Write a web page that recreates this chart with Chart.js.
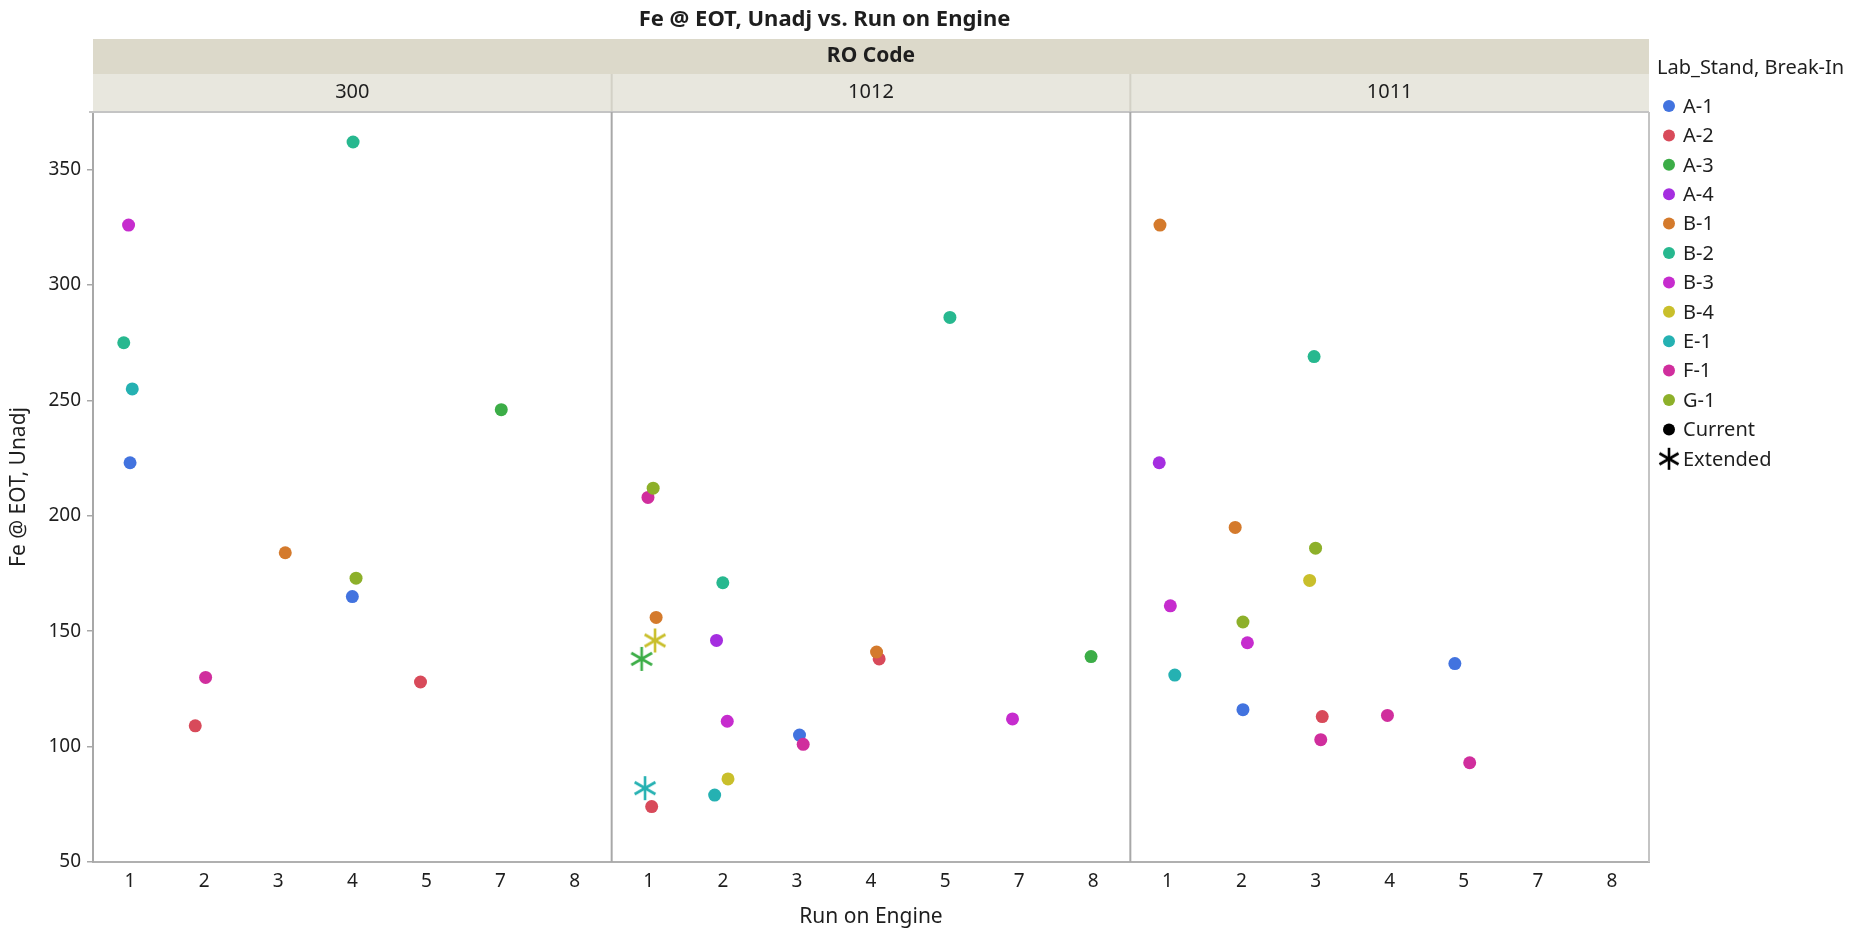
<!DOCTYPE html>
<html>
<head>
<meta charset="utf-8">
<script src="https://cdn.jsdelivr.net/npm/chart.js@4.4.1/dist/chart.umd.min.js"></script>
<style>
  html, body { margin: 0; padding: 0; background: #fff; }
  #wrap { width: 1849px; height: 930px; }
</style>
</head>
<body>
<div id="wrap"><canvas id="feChart" width="1849" height="930"></canvas></div>
<script>
const panels = ['300', '1012', '1011'];
const runs = ['1', '2', '3', '4', '5', '7', '8'];
const labStands = ['A-1', 'A-2', 'A-3', 'A-4', 'B-1', 'B-2', 'B-3', 'B-4', 'E-1', 'F-1', 'G-1'];
const yTicks = [50, 100, 150, 200, 250, 300, 350];

// rows: [RO Code, Run on Engine, Fe @ EOT Unadj, Break-In]
const feA1 = [['300', '1', 223, 'Current'], ['300', '4', 165, 'Current'], ['1012', '3', 105, 'Current'], ['1011', '2', 116, 'Current'], ['1011', '5', 136, 'Current']];
const feA2 = [['300', '2', 109, 'Current'], ['300', '5', 128, 'Current'], ['1012', '1', 74, 'Current'], ['1012', '4', 138, 'Current'], ['1011', '3', 113, 'Current']];
const feA3 = [['300', '7', 246, 'Current'], ['1012', '1', 138, 'Extended'], ['1012', '8', 139, 'Current']];
const feA4 = [['1012', '2', 146, 'Current'], ['1011', '1', 223, 'Current']];
const feB1 = [['300', '3', 184, 'Current'], ['1012', '1', 156, 'Current'], ['1012', '4', 141, 'Current'], ['1011', '1', 326, 'Current'], ['1011', '2', 195, 'Current']];
const feB2 = [['300', '1', 275, 'Current'], ['300', '4', 362, 'Current'], ['1012', '2', 171, 'Current'], ['1012', '5', 286, 'Current'], ['1011', '3', 269, 'Current']];
const feB3 = [['300', '1', 326, 'Current'], ['1012', '2', 111, 'Current'], ['1012', '7', 112, 'Current'], ['1011', '1', 161, 'Current'], ['1011', '2', 145, 'Current']];
const feB4 = [['1012', '1', 146, 'Extended'], ['1012', '2', 86, 'Current'], ['1011', '3', 172, 'Current']];
const feE1 = [['300', '1', 255, 'Current'], ['1012', '1', 82, 'Extended'], ['1012', '2', 79, 'Current'], ['1011', '1', 131, 'Current']];
const feF1 = [['300', '2', 130, 'Current'], ['1012', '1', 208, 'Current'], ['1012', '3', 101, 'Current'], ['1011', '3', 103, 'Current'], ['1011', '4', 113.5, 'Current'], ['1011', '5', 93, 'Current']];
const feG1 = [['300', '4', 173, 'Current'], ['1012', '1', 212, 'Current'], ['1011', '2', 154, 'Current'], ['1011', '3', 186, 'Current']];

// horizontal jitter inside a run slot, as seen in the picture
const jitA1 = [0, 0, 0.035, 0.02, -0.12];
const jitA2 = [-0.12, -0.08, 0.04, 0.11, 0.09];
const jitA3 = [0.01, -0.095, -0.03];
const jitA4 = [-0.085, -0.11];
const jitB1 = [0.095, 0.1, 0.075, -0.1, -0.085];
const jitB2 = [-0.085, 0.01, 0, 0.065, -0.02];
const jitB3 = [-0.02, 0.06, -0.09, 0.04, 0.08];
const jitB4 = [0.085, 0.07, -0.08];
const jitE1 = [0.03, -0.05, -0.11, 0.1];
const jitF1 = [0.02, -0.01, 0.085, 0.07, -0.03, 0.08];
const jitG1 = [0.05, 0.06, 0.02, 0];

const standRows = [feA1, feA2, feA3, feA4, feB1, feB2, feB3, feB4, feE1, feF1, feG1];
const standJitter = [jitA1, jitA2, jitA3, jitA4, jitB1, jitB2, jitB3, jitB4, jitE1, jitF1, jitG1];
const colors = ['#4273df', '#d84a5a', '#3cad47', '#a52ee0', '#d47a2c', '#27b88f', '#c62cce', '#c9bf2b', '#25b1b2', '#d02e9d', '#8db02a'];

const FONT = '"Noto Sans", "Open Sans", sans-serif';
const TXT = '#1e1e1e';

// six-armed asterisk used for Extended break-in
function makeStar(color, arm, lw) {
    const c = document.createElement('canvas');
    const s = Math.ceil(arm * 2 + 4);
    c.width = s; c.height = s;
    const g = c.getContext('2d');
    g.strokeStyle = color;
    g.lineWidth = lw;
    for (const a of [90, 30, 150]) {
        const r = a * Math.PI / 180;
        g.beginPath();
        g.moveTo(s / 2 - Math.cos(r) * arm, s / 2 - Math.sin(r) * arm);
        g.lineTo(s / 2 + Math.cos(r) * arm, s / 2 + Math.sin(r) * arm);
        g.stroke();
    }
    return c;
}
const stars = colors.map(c => makeStar(c, 12, 2.6));

const datasets = labStands.map((name, i) => ({
    label: name,
    order: -i,
    data: standRows[i].map((r, k) => ({
        x: panels.indexOf(r[0]) * runs.length + runs.indexOf(r[1]) + standJitter[i][k],
        y: r[2],
        breakIn: r[3]
    })),
    backgroundColor: colors[i],
    borderColor: colors[i],
    borderWidth: 0,
    pointRadius: 6.5,
    pointStyle: c => (c.raw && c.raw.breakIn === 'Extended') ? stars[i] : 'circle'
}));

const facetPlugin = {
    id: 'facets',
    beforeDraw(chart) {
        const { ctx, chartArea: a, scales: { x } } = chart;
        ctx.save();
        // RO Code band
        ctx.fillStyle = '#dcd9ca';
        ctx.fillRect(a.left, 39, a.right - a.left, 35);
        ctx.fillStyle = '#e8e7de';
        ctx.fillRect(a.left, 74, a.right - a.left, 37);
        ctx.fillStyle = TXT;
        ctx.textAlign = 'center';
        ctx.textBaseline = 'middle';
        ctx.font = 'bold 21px ' + FONT;
        ctx.fillText('RO Code', (a.left + a.right) / 2, 56);
        ctx.font = '20px ' + FONT;
        panels.forEach((p, i) => {
            const l = x.getPixelForValue(i * runs.length - 0.5);
            const r = x.getPixelForValue((i + 1) * runs.length - 0.5);
            ctx.fillText(p, (l + r) / 2, 92);
        });
        ctx.strokeStyle = '#d3d1c6';
        ctx.lineWidth = 2;
        for (let i = 1; i < panels.length; i++) {
            const px = x.getPixelForValue(i * runs.length - 0.5);
            ctx.beginPath(); ctx.moveTo(px, 74); ctx.lineTo(px, 111); ctx.stroke();
        }
        // chart title, centred over the whole graph frame
        ctx.font = 'bold 22px ' + FONT;
        ctx.fillText('Fe @ EOT, Unadj vs. Run on Engine', a.right / 2, 20);
        ctx.restore();
    },
    afterDraw(chart) {
        const { ctx, chartArea: a, scales: { x } } = chart;
        ctx.save();
        ctx.strokeStyle = '#c4c4c4';
        ctx.lineWidth = 2;
        ctx.beginPath();
        ctx.moveTo(a.left - 4, a.top); ctx.lineTo(a.right, a.top);
        ctx.moveTo(a.right, a.top); ctx.lineTo(a.right, a.bottom);
        ctx.stroke();
        ctx.strokeStyle = '#a8a8a8';
        for (let i = 1; i < panels.length; i++) {
            const px = x.getPixelForValue(i * runs.length - 0.5);
            ctx.beginPath(); ctx.moveTo(px, a.top); ctx.lineTo(px, a.bottom); ctx.stroke();
        }
        // legend
        const lx = 1657;
        ctx.fillStyle = TXT;
        ctx.textAlign = 'left';
        ctx.textBaseline = 'middle';
        ctx.font = '20px ' + FONT;
        ctx.fillText('Lab_Stand, Break-In', lx, 68);
        const rows = labStands.concat(['Current', 'Extended']);
        rows.forEach((name, i) => {
            const y = 106 + i * 29.4;
            if (name === 'Extended') {
                ctx.drawImage(makeStar('#000', 11, 2.6), lx + 12 - 13, y - 13);
            } else {
                ctx.fillStyle = i < colors.length ? colors[i] : '#000';
                ctx.beginPath(); ctx.arc(lx + 12, y, 6, 0, Math.PI * 2); ctx.fill();
            }
            ctx.fillStyle = TXT;
            ctx.fillText(name, lx + 26, y + 1);
        });
        ctx.restore();
    }
};

new Chart(document.getElementById('feChart'), {
    type: 'scatter',
    data: { datasets },
    options: {
        responsive: false,
        animation: false,
        devicePixelRatio: 1,
        layout: { padding: { left: 0, top: 112, right: 200, bottom: 0 } },
        plugins: { legend: { display: false }, tooltip: { enabled: false } },
        scales: {
            x: {
                type: 'linear',
                min: -0.5,
                max: panels.length * runs.length - 0.5,
                afterBuildTicks: s => { s.ticks = Array.from({ length: panels.length * runs.length }, (_, i) => ({ value: i })); },
                afterFit: s => { s.height = 68; },
                ticks: {
                    autoSkip: false, maxRotation: 0, padding: 8,
                    color: TXT, font: { family: FONT, size: 19 },
                    callback: v => runs[((v % runs.length) + runs.length) % runs.length]
                },
                grid: { display: true, drawOnChartArea: false, drawTicks: false },
                border: { color: '#b0b0b0', width: 2 },
                title: { display: true, text: 'Run on Engine', color: TXT, font: { family: FONT, size: 21 }, padding: { top: 0, bottom: 0 } }
            },
            y: {
                min: 50,
                max: 375,
                afterBuildTicks: s => { s.ticks = yTicks.map(v => ({ value: v })); },
                afterFit: s => { s.width = 93; },
                ticks: { padding: 6, color: TXT, font: { family: FONT, size: 19 } },
                grid: { display: true, drawOnChartArea: false, drawTicks: true, tickLength: 6, color: '#a8a8a8', lineWidth: 1.5 },
                border: { color: '#a8a8a8', width: 2 },
                title: { display: true, text: 'Fe @ EOT, Unadj', color: TXT, font: { family: FONT, size: 21 }, padding: { top: 6, bottom: 0 } }
            }
        }
    },
    plugins: [facetPlugin]
});
</script>
</body>
</html>
